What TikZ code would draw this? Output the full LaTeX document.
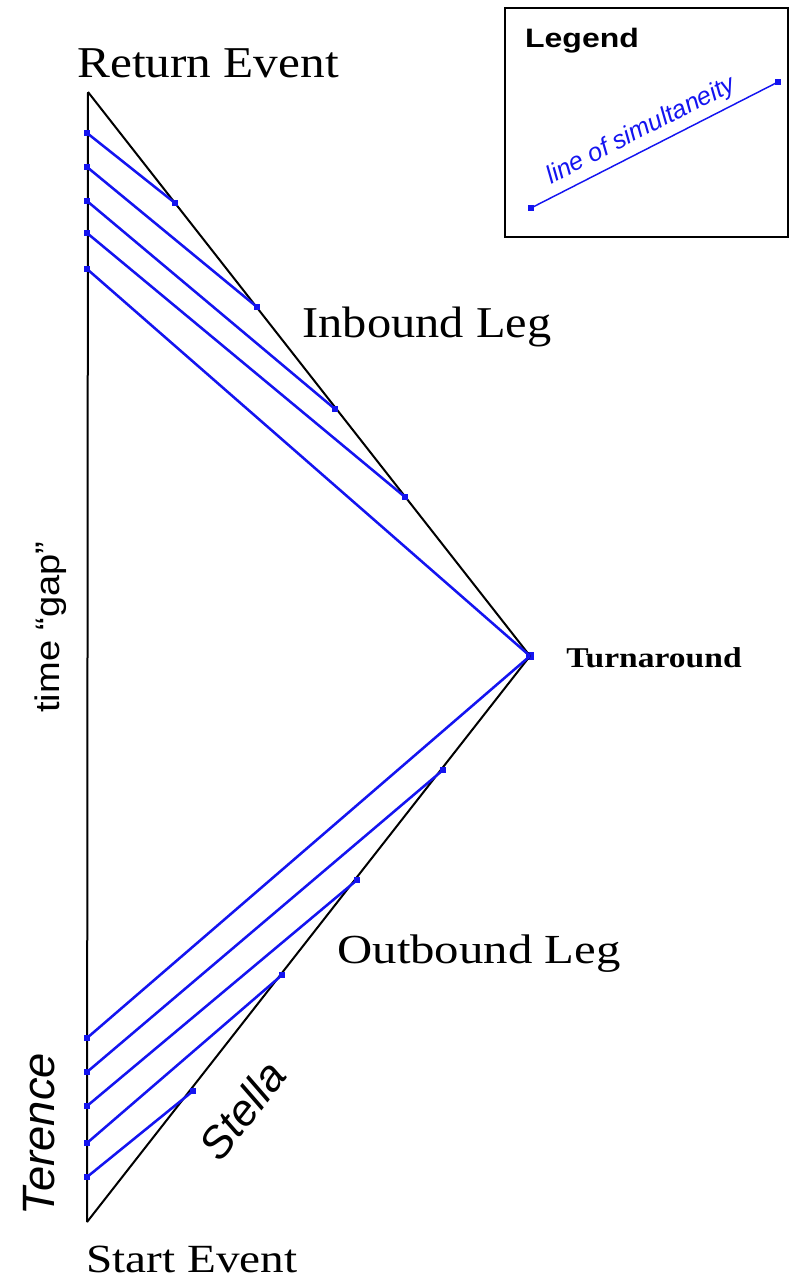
\documentclass[tikz,border=0pt]{standalone}
\usepackage{fontspec}
\setmainfont{Liberation Serif}
\setsansfont{Liberation Sans}
\definecolor{simblue}{RGB}{20,20,240}
\begin{document}
\begin{tikzpicture}[x=0.75pt,y=-0.75pt,
  worldline/.style={draw=black,line width=1.5pt},
  simul/.style={draw=simblue,line width=1.9pt},
  bdot/.style={rectangle,fill=simblue,inner sep=0pt,minimum size=5pt},
  evlabel/.style={font=\fontsize{33}{36}\selectfont,inner sep=0pt,anchor=base},
  sanslabel/.style={font=\sffamily,inner sep=0pt}]
\useasboundingbox (0,0) rectangle (794,1279);

% events
\coordinate (ret) at (88,92);
\coordinate (start) at (87,1222);
\node[bdot,minimum size=6pt] (turn) at (530,656) {};

% world lines
\draw[worldline] (start) -- (ret);
\draw[worldline] (ret) -- (turn.center);
\draw[worldline] (start) -- (turn.center);

% inbound simultaneity lines
\node[bdot] (il1) at (87,133) {};
\node[bdot] (il2) at (87,167) {};
\node[bdot] (il3) at (87,201) {};
\node[bdot] (il4) at (87,233) {};
\node[bdot] (il5) at (87,269) {};
\node[bdot] (ir1) at (175,203) {};
\node[bdot] (ir2) at (257,307) {};
\node[bdot] (ir3) at (335,409) {};
\node[bdot] (ir4) at (405,497) {};
\draw[simul] (il1.center) -- (ir1.center);
\draw[simul] (il2.center) -- (ir2.center);
\draw[simul] (il3.center) -- (ir3.center);
\draw[simul] (il4.center) -- (ir4.center);
\draw[simul] (il5.center) -- (turn.center);

% outbound simultaneity lines
\node[bdot] (ol1) at (87,1038) {};
\node[bdot] (ol2) at (87,1072) {};
\node[bdot] (ol3) at (87,1106) {};
\node[bdot] (ol4) at (87,1143) {};
\node[bdot] (ol5) at (87,1177) {};
\node[bdot] (or2) at (443,770) {};
\node[bdot] (or3) at (357,880) {};
\node[bdot] (or4) at (282,975) {};
\node[bdot] (or5) at (193,1091) {};
\draw[simul] (ol1.center) -- (turn.center);
\draw[simul] (ol2.center) -- (or2.center);
\draw[simul] (ol3.center) -- (or3.center);
\draw[simul] (ol4.center) -- (or4.center);
\draw[simul] (ol5.center) -- (or5.center);

% labels
\node[evlabel,xscale=1.12] (lret) at (208,77) {Return Event};
\node[evlabel,xscale=1.1] (lin) at (427,337) {Inbound Leg};
\node[evlabel,font=\fontsize{31}{34}\selectfont,xscale=1.18] (lout) at (479,963) {Outbound Leg};
\node[evlabel,font=\fontsize{30}{33}\selectfont,xscale=1.18] (lstart) at (192,1272) {Start Event};
\node[evlabel,font=\bfseries\fontsize{21.5}{24}\selectfont,xscale=1.17] (lturn) at (654,667) {Turnaround};
\node[sanslabel,font=\sffamily\fontsize{25.5}{28}\selectfont,rotate=90,xscale=1.12,anchor=base] (lgap) at (60,627) {time “gap”};
\node[sanslabel,font=\sffamily\itshape\fontsize{34}{36}\selectfont,rotate=90,anchor=base] (lter) at (55,1134) {Terence};
\node[sanslabel,font=\sffamily\itshape\fontsize{33}{36}\selectfont,rotate=52] (lstella) at (242,1110) {Stella};

% legend
\node[draw=black,line width=1.3pt,rectangle,minimum width=212.25pt,minimum height=171.75pt,inner sep=0pt] (legbox) at (646.5,122.5) {};
\node[sanslabel,font=\sffamily\bfseries\fontsize{20}{22}\selectfont,xscale=1.2,anchor=base] (legtitle) at (582,47) {Legend};
\node[bdot,minimum size=4pt] (lga) at (531,208) {};
\node[bdot,minimum size=4pt] (lgb) at (778,82) {};
\draw[simblue,line width=1.1pt] (lga.center) -- (lgb.center);
\node[sanslabel,font=\sffamily\itshape\fontsize{19}{21}\selectfont,text=simblue,rotate=27] (legtext) at (641,131) {line of simultaneity};
\end{tikzpicture}
\end{document}
